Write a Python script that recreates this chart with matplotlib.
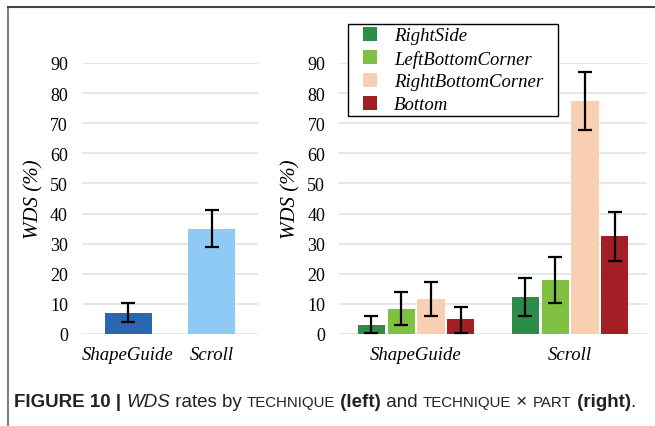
import matplotlib.pyplot as plt
from matplotlib.lines import Line2D
import numpy as np

# technique (left panel)
techniques = ['ShapeGuide', 'Scroll']
tech_wds = [7.1, 35.0]
tech_lo = [4.0, 28.9]
tech_hi = [10.2, 41.1]
tech_colors = ['#2b67ae', '#8fcaf5']

# technique x part (right panel)
parts = ['RightSide', 'LeftBottomCorner', 'RightBottomCorner', 'Bottom']
part_wds = [[3.0, 12.4], [8.4, 18.0], [11.6, 77.4], [4.9, 32.5]]
part_lo = [[0.2, 6.1], [3.0, 10.3], [6.1, 67.8], [0.2, 24.4]]
part_hi = [[6.1, 18.7], [14.1, 25.7], [17.2, 87.1], [8.9, 40.6]]
part_colors = ['#2c8d48', '#80c041', '#f9cfb2', '#a11f25']

serif = 'Liberation Serif'
sans = 'Liberation Sans'

fig = plt.figure(figsize=(6.55, 4.27), dpi=100)
axL = fig.add_axes([0.125, 0.2155, 0.269, 0.6347])
axR = fig.add_axes([0.5176, 0.2155, 0.4702, 0.6347])


def style(ax):
    for s in ax.spines.values():
        s.set_visible(False)
    ax.set_ylim(0, 90)
    ax.set_yticks(np.arange(0, 91, 10))
    ax.yaxis.grid(True, color='#e3e3e3', lw=1.2)
    ax.set_axisbelow(True)
    ax.tick_params(length=0, pad=10)
    ax.tick_params(axis='x', pad=9)
    for t in ax.get_yticklabels():
        t.set_family(serif)
        t.set_fontsize(13)
    ax.set_ylabel('WDS (%)', family=serif, style='italic', fontsize=15, labelpad=5)


# left
x = np.arange(len(techniques))
yerr = [np.array(tech_wds) - np.array(tech_lo), np.array(tech_hi) - np.array(tech_wds)]
axL.bar(x, tech_wds, width=0.56, color=tech_colors)
axL.errorbar(x, tech_wds, yerr=yerr, fmt='none', ecolor='black', elinewidth=1.6,
             capsize=5, capthick=1.6)
axL.set_xlim(-0.55, 1.55)
style(axL)
axL.set_xticks(x)
axL.set_xticklabels(techniques, family=serif, style='italic', fontsize=13.5)

# right
w = 0.177
step = 0.193
for i, p in enumerate(parts):
    pos = x + (i - 1.5) * step
    v = np.array(part_wds[i])
    err = [v - np.array(part_lo[i]), np.array(part_hi[i]) - v]
    axR.bar(pos, v, width=w, color=part_colors[i])
    axR.errorbar(pos, v, yerr=err, fmt='none', ecolor='black', elinewidth=1.6,
                 capsize=5, capthick=1.6)
axR.set_xlim(-0.5, 1.5)
style(axR)
axR.set_xticks(x)
axR.set_xticklabels(techniques, family=serif, style='italic', fontsize=13.5)

# square markers as legend keys
handles = [Line2D([], [], ls='none', marker='s', markersize=10.5, markeredgewidth=0,
                  markerfacecolor=c) for c in part_colors]
leg = axR.legend(handles, parts, loc='upper left',
                 bbox_to_anchor=(0.029, 1.143, 0.682, 0.0),
                 mode='expand', fancybox=False,
                 edgecolor='black', framealpha=1, borderpad=0.15, labelspacing=0.3,
                 handlelength=2.0, handletextpad=0.3,
                 borderaxespad=0.0,
                 prop={'family': serif, 'style': 'italic', 'size': 13.5})
leg.get_frame().set_linewidth(1.0)

# frame lines
fig.add_artist(Line2D([8 / 655, 8 / 655], [0, 1 - 8 / 427], color='#666666', lw=1.2))
fig.add_artist(Line2D([8 / 655, 1], [1 - 8 / 427, 1 - 8 / 427], color='#444444', lw=1.5))

# caption, built piece by piece
big, small = 13.5, 10.8
pieces = [
    ('FIGURE 10 | ', 'bold', 'normal', big),
    ('WDS', 'normal', 'italic', big),
    (' rates by ', 'normal', 'normal', big),
    ('TECHNIQUE', 'normal', 'normal', small),
    (' (left)', 'bold', 'normal', big),
    (' and ', 'normal', 'normal', big),
    ('TECHNIQUE', 'normal', 'normal', small),
    (' \u00d7 ', 'normal', 'normal', big),
    ('PART', 'normal', 'normal', small),
    (' (right)', 'bold', 'normal', big),
    ('.', 'normal', 'normal', big),
]
renderer = fig.canvas.get_renderer()
xpos = 14 / 655
ybase = 1 - 407 / 427
for txt, wt, st, sz in pieces:
    t = fig.text(xpos, ybase, txt, family=sans, weight=wt, style=st, fontsize=sz,
                 color='#222222', va='baseline', ha='left')
    bb = t.get_window_extent(renderer=renderer)
    xpos += bb.width / fig.bbox.width

fig.savefig('out.png', dpi=100)
